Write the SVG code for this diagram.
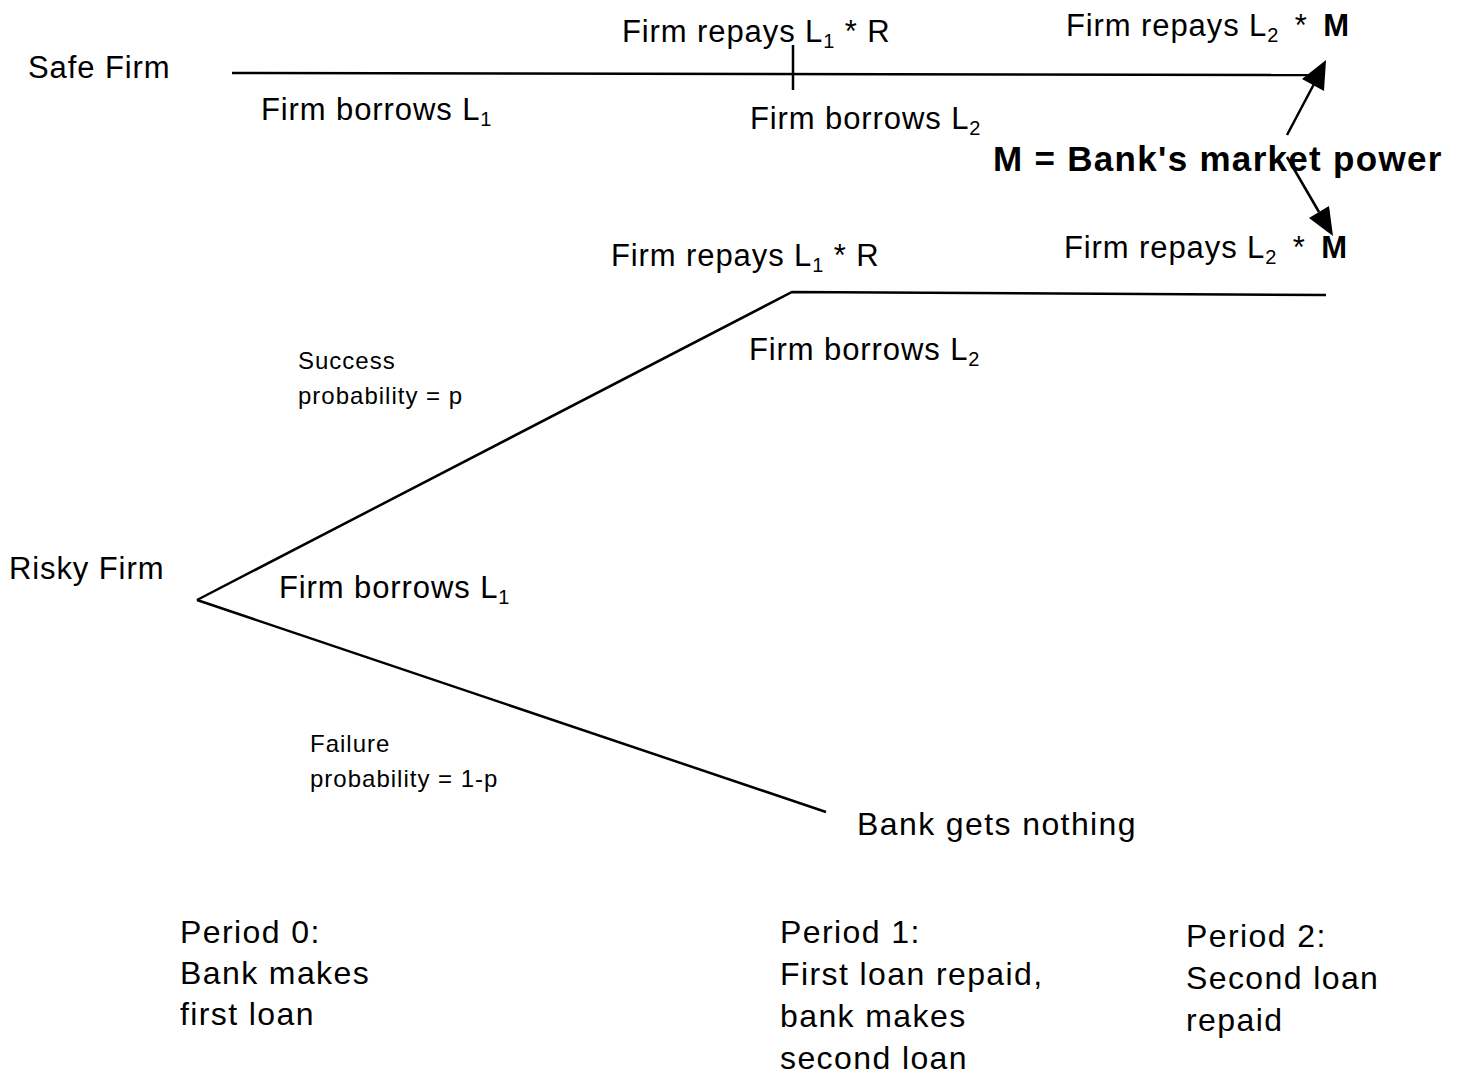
<svg xmlns="http://www.w3.org/2000/svg" width="1463" height="1078" viewBox="0 0 1463 1078">
<style>
text{font-family:"Liberation Sans",Arial,Helvetica,sans-serif;fill:#000}
.m{font-size:31px;letter-spacing:0.9px}
.s{font-size:24px;letter-spacing:1px}
.p{font-size:32px;letter-spacing:1.4px}
.b{font-size:35px;font-weight:bold;letter-spacing:1.3px}
.bm{font-weight:bold}
.sub{font-size:20px}
.ln{stroke:#000;stroke-width:2.5;fill:none}
.ah{fill:#000}
</style>
<rect width="1463" height="1078" fill="#fff"/>
<g id="connectors">
<path class="ln" d="M232,73 L1312,75"/>
<path class="ln" d="M793,45 L793,90"/>
<path class="ln" d="M197,600 L792,292 L1326,295"/>
<path class="ln" d="M197,600 L826,812"/>
<line class="ln" x1="1287" y1="135" x2="1314" y2="84"/>
<polygon class="ah" points="1326,60 1324,91 1302,79"/>
<line class="ln" x1="1287" y1="157" x2="1319" y2="212"/>
<polygon class="ah" points="1333,236 1309,218 1329,206"/>
</g>
<g id="safe-firm"><text class="m" x="28" y="78">Safe Firm</text></g>
<g id="safe-borrow1"><text class="m" x="261" y="120">Firm borrows L<tspan class="sub" dy="6">1</tspan></text></g>
<g id="safe-repay1"><text class="m" x="622" y="42">Firm repays L<tspan class="sub" dy="6">1</tspan><tspan dy="-6"> * R</tspan></text></g>
<g id="safe-borrow2"><text class="m" x="750" y="129">Firm borrows L<tspan class="sub" dy="6">2</tspan></text></g>
<g id="safe-repay2"><text class="m" x="1066" y="36">Firm repays L<tspan class="sub" dy="6">2</tspan><tspan dy="-6" dx="6"> * </tspan><tspan class="bm" dx="6">M</tspan></text></g>
<g id="market-power"><text class="b" x="993" y="171">M = Bank's market power</text></g>
<g id="risky-repay2"><text class="m" x="1064" y="258">Firm repays L<tspan class="sub" dy="6">2</tspan><tspan dy="-6" dx="6"> * </tspan><tspan class="bm" dx="6">M</tspan></text></g>
<g id="risky-repay1"><text class="m" x="611" y="266">Firm repays L<tspan class="sub" dy="6">1</tspan><tspan dy="-6"> * R</tspan></text></g>
<g id="risky-borrow2"><text class="m" x="749" y="360">Firm borrows L<tspan class="sub" dy="6">2</tspan></text></g>
<g id="success"><text class="s" x="298" y="369">Success</text><text class="s" x="298" y="404">probability = p</text></g>
<g id="risky-firm"><text class="m" x="9" y="579">Risky Firm</text></g>
<g id="risky-borrow1"><text class="m" x="279" y="598">Firm borrows L<tspan class="sub" dy="6">1</tspan></text></g>
<g id="failure"><text class="s" x="310" y="752">Failure</text><text class="s" x="310" y="787">probability = 1-p</text></g>
<g id="nothing"><text class="p" x="857" y="835">Bank gets nothing</text></g>
<g id="period0"><text class="p" x="180" y="943">Period 0:</text><text class="p" x="180" y="984">Bank makes</text><text class="p" x="180" y="1025">first loan</text></g>
<g id="period1"><text class="p" x="780" y="943">Period 1:</text><text class="p" x="780" y="985">First loan repaid,</text><text class="p" x="780" y="1027">bank makes</text><text class="p" x="780" y="1069">second loan</text></g>
<g id="period2"><text class="p" x="1186" y="947">Period 2:</text><text class="p" x="1186" y="989">Second loan</text><text class="p" x="1186" y="1031">repaid</text></g>
</svg>
